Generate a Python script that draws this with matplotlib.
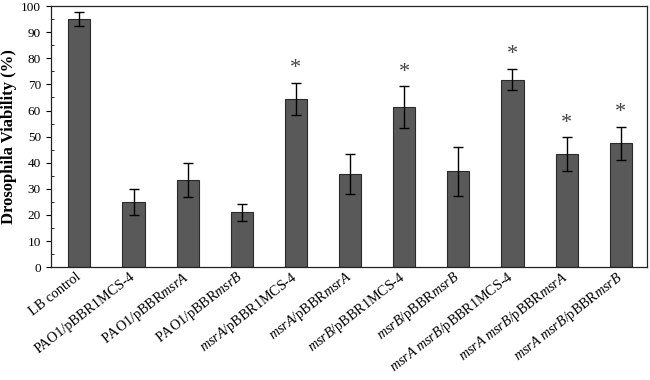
import matplotlib
matplotlib.use("Agg")
import matplotlib.pyplot as plt
from matplotlib.ticker import MultipleLocator

plt.rcParams['font.family'] = ['Liberation Serif', 'DejaVu Serif']
plt.rcParams['mathtext.fontset'] = 'custom'
plt.rcParams['mathtext.rm'] = 'Liberation Serif'
plt.rcParams['mathtext.it'] = 'Liberation Serif:italic'

# strain labels (italic gene names via mathtext)
labels = [
    "LB control",
    "PAO1/pBBR1MCS-4",
    r"PAO1/pBBR$\mathit{msrA}$",
    r"PAO1/pBBR$\mathit{msrB}$",
    r"$\mathit{msrA}$/pBBR1MCS-4",
    r"$\mathit{msrA}$/pBBR$\mathit{msrA}$",
    r"$\mathit{msrB}$/pBBR1MCS-4",
    r"$\mathit{msrB}$/pBBR$\mathit{msrB}$",
    r"$\mathit{msrA\ msrB}$/pBBR1MCS-4",
    r"$\mathit{msrA\ msrB}$/pBBR$\mathit{msrA}$",
    r"$\mathit{msrA\ msrB}$/pBBR$\mathit{msrB}$",
]
viability = [95.1, 25.0, 33.3, 21.0, 64.5, 35.6, 61.2, 36.7, 71.8, 43.3, 47.5]
errors = [2.6, 5.0, 6.5, 3.3, 6.2, 7.7, 8.0, 9.4, 4.1, 6.4, 6.3]
significant = [False, False, False, False, True, False, True, False, True, True, True]

fig = plt.figure(figsize=(6.5, 3.8), dpi=100)
ax = fig.add_axes([0.078, 0.297, 0.917, 0.687])

x = list(range(len(labels)))
ax.bar(x, viability, width=0.41, color='#595959', edgecolor='#2b2b2b', linewidth=0.8,
       yerr=errors, error_kw=dict(ecolor='black', elinewidth=1.0, capsize=3.8, capthick=1.0))

for xi, v, e, s in zip(x, viability, errors, significant):
    if s:
        ax.text(xi, v + e + 1.8, '*', ha='center', va='bottom', fontsize=16, color='#444444')

ax.set_xlim(-0.53, 10.48)
ax.set_ylim(0, 100)
ax.yaxis.set_major_locator(MultipleLocator(10))
ax.yaxis.set_minor_locator(MultipleLocator(5))
ax.tick_params(axis='y', which='major', direction='out', length=3.5, width=0.8, labelsize=9.5)
ax.tick_params(axis='y', which='minor', direction='in', length=2.5, width=0.6)
ax.set_xticks(x)
ax.set_xticklabels(labels, rotation=38, ha='right', va='center', rotation_mode='anchor', fontsize=10.2)
ax.tick_params(axis='x', length=0, pad=6)

ax.set_ylabel('Drosophila Viability (%)', fontsize=12, fontweight='bold', labelpad=3)

for sp in ax.spines.values():
    sp.set_linewidth(0.9)
    sp.set_color('#222222')

fig.savefig('out.png', dpi=100)
